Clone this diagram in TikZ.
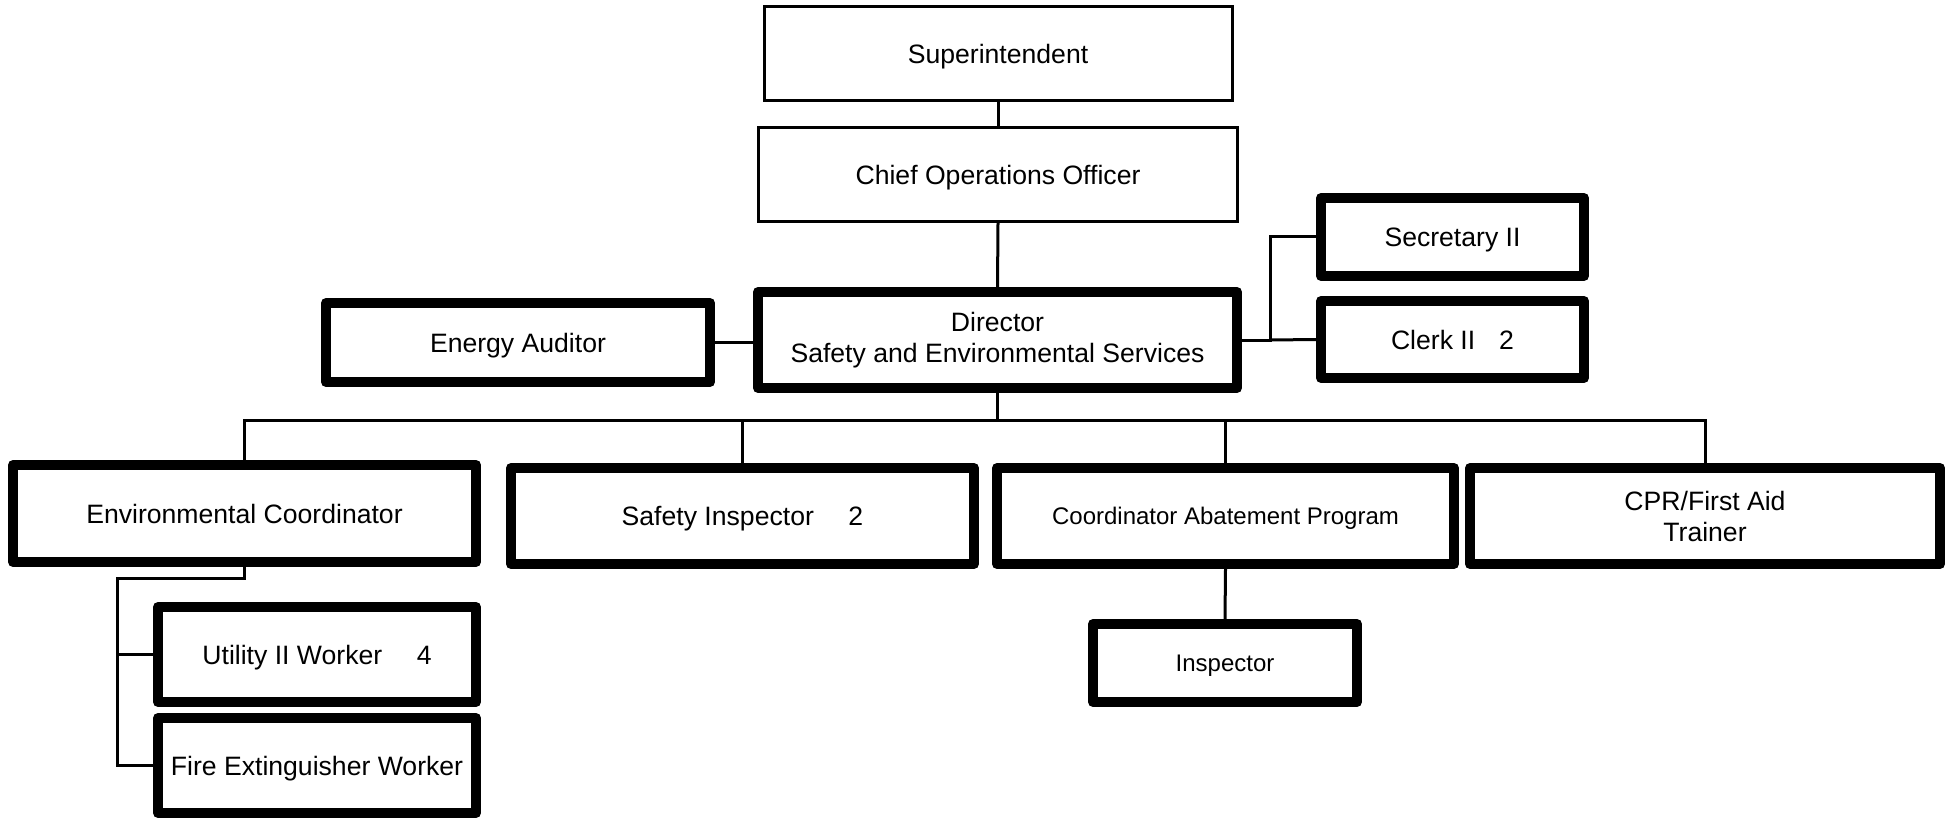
\documentclass[tikz,border=0pt]{standalone}
\usepackage{fontspec}
\setmainfont{Liberation Sans}
\begin{document}
\begin{tikzpicture}[x=0.5pt,y=-0.5pt,
  bigfont/.style={font=\fontsize{13.3}{15.5}\selectfont},
  smallfont/.style={font=\fontsize{12}{14}\selectfont},
  oneline/.style={text depth=0pt},
  box/.style={draw, line width=5pt, line join=round, fill=white, inner sep=0pt, align=center, bigfont},
  thinbox/.style={draw, line width=1.5pt, fill=white, inner sep=0pt, align=center, oneline, bigfont},
  link/.style={line width=1.5pt}]
\useasboundingbox (0,0) rectangle (1949,818);
% nodes
\node[thinbox, minimum width=234pt, minimum height=47pt] (sup) at (998,54) {Superintendent};
\node[thinbox, minimum width=239.5pt, minimum height=47pt] (coo) at (998,174.5) {Chief Operations Officer};
\node[box, minimum width=239.5pt, minimum height=48pt] (dir) at (997.5,340) {Director\\Safety and Environmental Services};
\node[box, oneline, minimum width=192pt, minimum height=39.5pt] (ea) at (518,342.5) {Energy Auditor};
\node[box, oneline, minimum width=131.5pt, minimum height=39pt] (sec) at (1452.5,237) {Secretary II};
\node[box, oneline, minimum width=131.5pt, minimum height=38.5pt] (clk) at (1452.5,339.5) {Clerk II\hspace{0.9em}2};
\node[box, oneline, minimum width=231.5pt, minimum height=48.5pt] (env) at (244.5,513.5) {Environmental Coordinator};
\node[box, oneline, minimum width=231.5pt, minimum height=48pt] (saf) at (742.5,516) {Safety Inspector\hspace{1.3em}2};
\node[box, oneline, smallfont, minimum width=228.5pt, minimum height=48pt] (cap) at (1225.5,516) {Coordinator Abatement Program};
\node[box, minimum width=235pt, minimum height=48pt] (cpr) at (1705,516) {CPR/First Aid\\Trainer};
\node[box, oneline, minimum width=159pt, minimum height=47.5pt] (utl) at (317,654.5) {Utility II Worker\hspace{1.3em}4};
\node[box, oneline, minimum width=159pt, minimum height=47.5pt] (fir) at (317,765.5) {Fire Extinguisher Worker};
\node[box, oneline, smallfont, minimum width=132pt, minimum height=39pt] (ins) at (1225,663) {Inspector};
% connectors
\coordinate (rb) at (1270,340);
\coordinate (bus) at (997.5,420);
\coordinate (eb) at (117,578);
\draw[link] (sup.south) -- (coo.north);
\draw[link] (coo.south) -- (dir.north);
\draw[link] (ea.east) -- (ea.east -| dir.west);
\draw[link] (dir.east) -- (rb) |- (sec.west);
\draw[link] (rb) -- (clk.west);
\draw[link] (dir.south) -- (bus);
\draw[link] (env.north) |- (bus);
\draw[link] (saf.north) |- (bus);
\draw[link] (cap.north) |- (bus);
\draw[link] (cpr.north) |- (bus);
\draw[link] (env.south) |- (eb) |- (fir.west);
\draw[link] (eb |- utl.west) -- (utl.west);
\draw[link] (cap.south) -- (ins.north);
\end{tikzpicture}
\end{document}
